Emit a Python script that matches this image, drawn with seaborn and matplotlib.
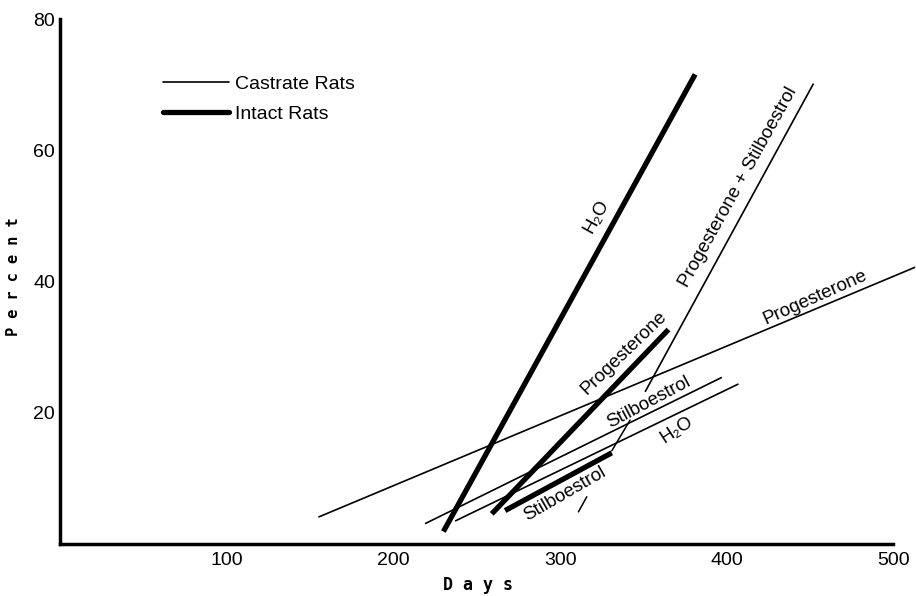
import matplotlib
matplotlib.use("Agg")
import matplotlib.pyplot as plt
from matplotlib.lines import Line2D
import seaborn as sns
import pandas as pd

# ---- data ----
series_names = ["Castrate H2O", "Castrate Stilboestrol", "Castrate Progesterone",
                "Castrate Progesterone + Stilboestrol",
                "Intact H2O", "Intact Progesterone", "Intact Stilboestrol"]
series_group = ["Castrate", "Castrate", "Castrate", "Castrate", "Intact", "Intact", "Intact"]
days_start = [237, 219, 155, 351, 230, 259, 267]
days_end = [407, 397, 513, 452, 381, 365, 331]
pct_start = [3.5, 3.1, 4.1, 23.2, 1.9, 4.6, 5.1]
pct_end = [24.4, 25.4, 42.2, 70.2, 71.6, 32.7, 13.9]

x_ticks = [100, 200, 300, 400, 500]
y_ticks = [20, 40, 60, 80]

# in-chart labels: text, x, y, rotation
label_text = ["H₂O", "Progesterone + Stilboestrol", "Progesterone", "Progesterone",
              "Stilboestrol", "H₂O", "Stilboestrol"]
label_x = [322, 407, 453, 338, 353, 370, 303]
label_y = [50.0, 54.4, 37.6, 29.2, 21.6, 17.4, 7.6]
label_rot = [61, 61, 24, 44, 28, 33, 30]

# leader lines
leader_x = [[311, 316], [331, 342]]
leader_y = [[4.9, 7.2], [14.2, 18.9]]

rows = []
for n, g, x0, x1, y0, y1 in zip(series_names, series_group, days_start, days_end, pct_start, pct_end):
    rows.append({"series": n, "group": g, "Days": x0, "Percent": y0})
    rows.append({"series": n, "group": g, "Days": x1, "Percent": y1})
df = pd.DataFrame(rows)

sns.set_style("white")
FONT = ["Liberation Sans", "DejaVu Sans"]
plt.rcParams["font.family"] = FONT
for k in ["text.color", "axes.labelcolor", "xtick.color", "ytick.color"]:
    plt.rcParams[k] = "black"

fig = plt.figure(figsize=(9.16, 5.96), dpi=100)
ax = fig.add_axes([60 / 916, 52 / 596, 1 - 60 / 916, (544 - 19.3) / 596])

widths = {"Castrate": 1.2, "Intact": 3.8}
for name in series_names:
    sub = df[df["series"] == name]
    g = sub["group"].iloc[0]
    sns.lineplot(data=sub, x="Days", y="Percent", ax=ax, color="black",
                 linewidth=widths[g], estimator=None, sort=False,
                 solid_capstyle="butt", clip_on=False)

for lx, ly in zip(leader_x, leader_y):
    ax.plot(lx, ly, color="black", linewidth=1.1)

for t, x, y, r in zip(label_text, label_x, label_y, label_rot):
    ax.text(x, y, t, rotation=r, rotation_mode="anchor", ha="center", va="center",
            fontsize=13.5, family=FONT)

ax.set_xlim(0, 513.5)
ax.set_ylim(0, 80)
ax.set_xticks(x_ticks)
ax.set_yticks(y_ticks)
ax.tick_params(axis="both", direction="in", length=6, width=1.5, labelsize=14)
ax.tick_params(axis="x", pad=6)
for s in ["top", "right"]:
    ax.spines[s].set_visible(False)
for s in ["left", "bottom"]:
    ax.spines[s].set_linewidth(2.5)
    ax.spines[s].set_color("black")
ax.spines["bottom"].set_bounds(0, 500)

MONO = ["DejaVu Sans Mono", "DejaVu Sans"]
ax.set_xlabel("D a y s", fontsize=12, fontweight="bold", family=MONO)
ax.set_ylabel("P e r c e n t", fontsize=11, fontweight="bold", family=MONO)
ax.xaxis.set_label_coords((478 - 60) / 856, (544 - 576) / 524.7)
ax.yaxis.set_label_coords((21 - 60) / 856, (544 - 277) / 524.7)

handles = [Line2D([0], [0], color="black", linewidth=1.2),
           Line2D([0], [0], color="black", linewidth=3.8)]
fig.legend(handles, ["Castrate Rats", "Intact Rats"], loc="upper left",
           bbox_to_anchor=(163 / 916, 1 - 75 / 596), frameon=False,
           fontsize=14, handlelength=3.4, handletextpad=0.3, labelspacing=0.65,
           borderpad=0, borderaxespad=0)

fig.savefig("out.png", dpi=100)
